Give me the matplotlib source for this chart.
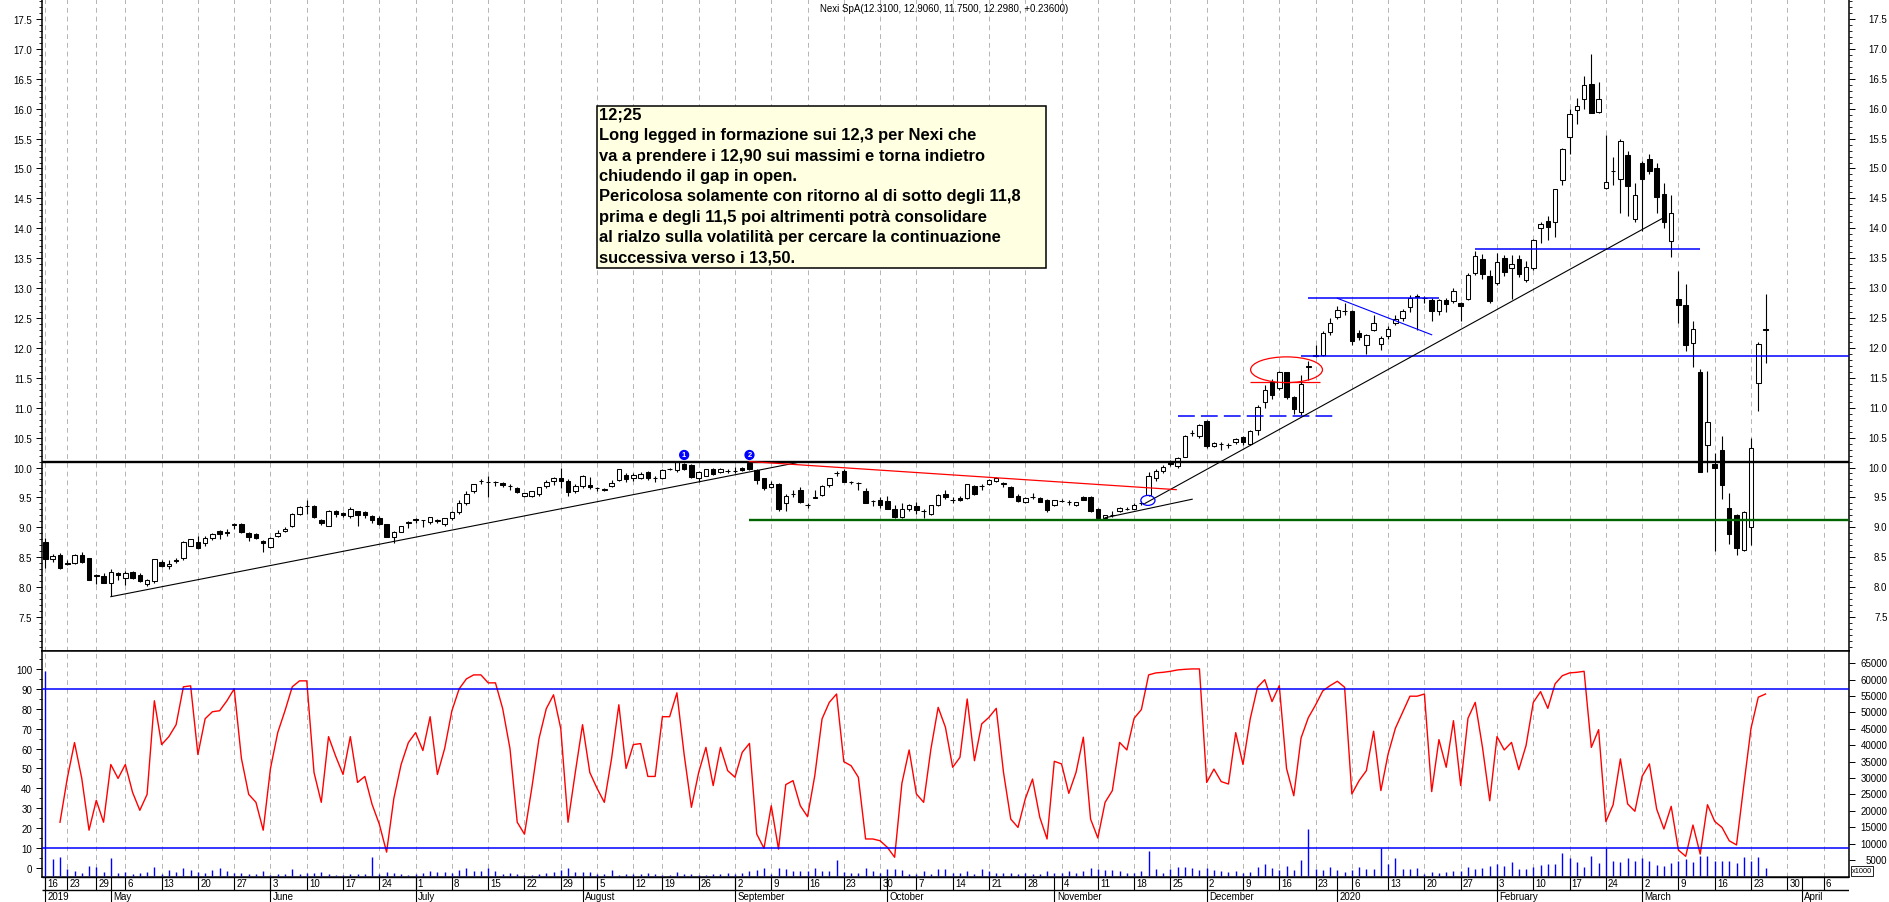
import numpy as np
import pandas as pd
import matplotlib
matplotlib.use("Agg")
import matplotlib.pyplot as plt
from matplotlib.patches import Rectangle, Ellipse
from matplotlib.ticker import MultipleLocator
from matplotlib.transforms import blended_transform_factory

plt.rcParams['font.family'] = ['Liberation Sans', 'DejaVu Sans']

title = "Nexi SpA(12.3100, 12.9060, 11.7500, 12.2980, +0.23600)"

# trading calendar (Borsa Italiana closing days in the window)
holidays = ['2019-04-19', '2019-04-22', '2019-05-01', '2019-08-15', '2019-12-24',
            '2019-12-25', '2019-12-26', '2019-12-31', '2020-01-01']
days = pd.bdate_range('2019-04-16', '2020-04-09', freq='C', holidays=holidays)

# daily OHLC, 16 Apr 2019 .. 25 Mar 2020
opens = [8.76, 8.47, 8.54, 8.40, 8.40, 8.54, 8.48, 8.21, 8.18, 8.07,
         8.24, 8.16, 8.25, 8.20, 8.06, 8.10, 8.42, 8.35, 8.46, 8.48,
         8.69, 8.76, 8.73, 8.82, 8.94, 8.92, 9.04, 9.06, 8.91, 8.89,
         8.77, 8.67, 8.85, 8.94, 9.02, 9.23, 9.36, 9.36, 9.13, 9.02,
         9.28, 9.24, 9.19, 9.27, 9.26, 9.19, 9.16, 9.06, 8.83, 8.93,
         9.07, 9.14, 9.12, 9.09, 9.11, 9.05, 9.15, 9.26, 9.40, 9.60,
         9.77, 9.76, 9.76, 9.74, 9.69, 9.66, 9.53, 9.53, 9.55, 9.69,
         9.78, 9.83, 9.78, 9.60, 9.69, 9.70, 9.66, 9.63, 9.69, 9.79,
         9.88, 9.82, 9.82, 9.93, 9.82, 9.82, 9.97, 9.96, 10.06, 10.04,
         9.83, 9.86, 9.97, 9.92, 9.94, 9.94, 9.99, 10.07, 9.96, 9.82,
         9.68, 9.73, 9.40, 9.55, 9.62, 9.37, 9.49, 9.54, 9.70, 9.91,
         9.94, 9.76, 9.74, 9.60, 9.44, 9.46, 9.44, 9.30, 9.18, 9.31,
         9.36, 9.27, 9.23, 9.37, 9.56, 9.45, 9.49, 9.49, 9.69, 9.69,
         9.73, 9.77, 9.73, 9.68, 9.53, 9.43, 9.51, 9.49, 9.46, 9.37,
         9.44, 9.42, 9.37, 9.51, 9.51, 9.31, 9.15, 9.21, 9.27, 9.31,
         9.31, 9.41, 9.54, 9.82, 9.94, 10.09, 10.03, 10.18, 10.57, 10.53,
         10.78, 10.36, 10.39, 10.37, 10.42, 10.51, 10.40, 10.62, 11.09, 11.43,
         11.33, 11.59, 11.18, 10.92, 11.68, 11.86, 11.88, 12.27, 12.52, 12.62,
         12.62, 12.25, 12.05, 12.30, 12.07, 12.20, 12.42, 12.50, 12.68, 12.85,
         12.83, 12.80, 12.62, 12.80, 12.79, 12.75, 12.82, 13.26, 13.49, 13.20,
         13.09, 13.51, 13.33, 13.49, 13.14, 13.33, 14.00, 14.13, 14.11, 14.80,
         15.52, 15.97, 16.17, 16.41, 15.94, 14.67, 14.96, 14.82, 15.22, 14.15,
         15.10, 15.16, 15.00, 14.58, 13.78, 12.82, 12.72, 12.09, 11.59, 10.37,
         10.06, 10.29, 9.33, 9.20, 8.62, 9.00, 11.42, 12.31]
highs = [8.82, 8.55, 8.57, 8.45, 8.56, 8.58, 8.48, 8.22, 8.23, 8.30,
         8.26, 8.27, 8.27, 8.23, 8.13, 8.47, 8.45, 8.45, 8.49, 8.77,
         8.81, 8.85, 8.85, 8.90, 8.96, 8.97, 9.08, 9.07, 8.93, 8.90,
         8.78, 8.83, 8.95, 9.00, 9.24, 9.36, 9.45, 9.37, 9.14, 9.29,
         9.29, 9.26, 9.34, 9.28, 9.27, 9.20, 9.19, 9.06, 8.94, 9.03,
         9.10, 9.15, 9.13, 9.18, 9.14, 9.16, 9.27, 9.45, 9.60, 9.73,
         9.80, 9.85, 9.78, 9.76, 9.72, 9.67, 9.58, 9.61, 9.68, 9.79,
         9.84, 10.00, 9.80, 9.72, 9.87, 9.84, 9.67, 9.66, 9.79, 9.98,
         9.90, 9.90, 9.92, 9.94, 9.86, 9.97, 10.00, 10.10, 10.07, 10.06,
         9.94, 9.98, 9.99, 9.99, 9.97, 10.01, 10.01, 10.10, 9.98, 9.83,
         9.77, 9.74, 9.55, 9.62, 9.68, 9.40, 9.63, 9.70, 9.83, 9.95,
         9.98, 9.78, 9.76, 9.65, 9.46, 9.51, 9.52, 9.37, 9.40, 9.39,
         9.42, 9.30, 9.38, 9.55, 9.62, 9.50, 9.53, 9.73, 9.70, 9.72,
         9.80, 9.84, 9.76, 9.69, 9.55, 9.50, 9.57, 9.51, 9.47, 9.46,
         9.47, 9.45, 9.43, 9.53, 9.52, 9.32, 9.21, 9.27, 9.34, 9.34,
         9.40, 9.44, 9.93, 9.97, 10.04, 10.13, 10.18, 10.55, 10.63, 10.73,
         10.80, 10.43, 10.42, 10.41, 10.50, 10.53, 10.63, 11.05, 11.38, 11.48,
         11.62, 11.60, 11.20, 11.55, 11.78, 12.05, 12.28, 12.50, 12.70, 12.75,
         12.64, 12.30, 12.24, 12.55, 12.20, 12.37, 12.55, 12.65, 12.88, 12.90,
         12.86, 12.83, 12.82, 12.84, 13.00, 12.77, 13.25, 13.62, 13.57, 13.30,
         13.58, 13.55, 13.55, 13.55, 13.45, 13.82, 14.10, 14.20, 14.65, 15.35,
         16.00, 16.18, 16.55, 16.92, 16.45, 15.56, 15.20, 15.50, 15.30, 14.75,
         15.12, 15.25, 15.10, 14.75, 14.55, 13.29, 13.07, 12.45, 11.65, 11.62,
         10.25, 10.52, 9.57, 9.22, 9.27, 10.50, 12.10, 12.906]
lows = [8.32, 8.42, 8.31, 8.37, 8.38, 8.40, 8.12, 8.05, 8.07, 7.85,
        8.12, 8.03, 8.14, 8.09, 8.02, 8.07, 8.33, 8.30, 8.40, 8.45,
        8.68, 8.64, 8.68, 8.78, 8.80, 8.85, 8.98, 8.90, 8.77, 8.80,
        8.58, 8.66, 8.84, 8.92, 9.01, 9.20, 9.22, 9.15, 9.04, 9.02,
        9.18, 9.18, 9.16, 9.03, 9.16, 9.07, 9.04, 8.83, 8.73, 8.92,
        8.99, 9.08, 9.00, 9.06, 9.07, 9.03, 9.12, 9.23, 9.38, 9.58,
        9.72, 9.51, 9.69, 9.68, 9.63, 9.58, 9.51, 9.51, 9.52, 9.66,
        9.70, 9.65, 9.53, 9.57, 9.66, 9.64, 9.60, 9.60, 9.67, 9.78,
        9.76, 9.77, 9.80, 9.79, 9.76, 9.80, 9.96, 9.93, 9.96, 9.82,
        9.75, 9.85, 9.87, 9.90, 9.90, 9.90, 9.94, 9.96, 9.72, 9.62,
        9.66, 9.28, 9.27, 9.50, 9.40, 9.33, 9.49, 9.52, 9.68, 9.86,
        9.75, 9.73, 9.62, 9.40, 9.36, 9.33, 9.30, 9.15, 9.16, 9.28,
        9.22, 9.16, 9.21, 9.36, 9.48, 9.40, 9.44, 9.47, 9.54, 9.62,
        9.71, 9.76, 9.67, 9.50, 9.42, 9.40, 9.47, 9.42, 9.26, 9.36,
        9.42, 9.38, 9.36, 9.45, 9.26, 9.12, 9.13, 9.18, 9.25, 9.29,
        9.30, 9.38, 9.52, 9.78, 9.90, 10.02, 9.99, 10.17, 10.52, 10.50,
        10.32, 10.34, 10.30, 10.32, 10.40, 10.38, 10.38, 10.55, 11.00, 11.15,
        11.30, 11.15, 10.90, 10.87, 11.47, 11.85, 11.86, 12.22, 12.48, 12.55,
        12.05, 12.14, 11.90, 12.28, 11.97, 12.15, 12.38, 12.45, 12.60, 12.30,
        12.75, 12.45, 12.55, 12.60, 12.75, 12.45, 12.80, 13.22, 13.15, 12.75,
        13.05, 13.20, 12.82, 13.18, 13.10, 13.30, 13.75, 13.80, 13.85, 14.72,
        15.24, 15.75, 16.00, 15.93, 15.92, 14.66, 14.73, 14.25, 14.20, 14.10,
        13.95, 14.90, 14.25, 14.00, 13.52, 12.42, 11.95, 11.68, 9.93, 9.93,
        8.60, 9.48, 8.72, 8.53, 8.60, 8.70, 10.95, 11.75]
closes = [8.47, 8.52, 8.32, 8.38, 8.54, 8.42, 8.12, 8.18, 8.07, 8.25,
          8.20, 8.23, 8.15, 8.11, 8.12, 8.47, 8.35, 8.39, 8.43, 8.76,
          8.80, 8.66, 8.82, 8.88, 8.89, 8.91, 9.05, 8.92, 8.83, 8.82,
          8.74, 8.82, 8.91, 8.98, 9.23, 9.34, 9.36, 9.17, 9.07, 9.28,
          9.23, 9.20, 9.30, 9.20, 9.20, 9.13, 9.05, 8.83, 8.93, 9.02,
          9.09, 9.12, 9.12, 9.17, 9.12, 9.15, 9.25, 9.40, 9.56, 9.72,
          9.77, 9.75, 9.76, 9.70, 9.69, 9.59, 9.57, 9.60, 9.67, 9.76,
          9.83, 9.78, 9.59, 9.69, 9.86, 9.67, 9.66, 9.63, 9.74, 9.97,
          9.80, 9.88, 9.89, 9.82, 9.82, 9.96, 9.98, 10.09, 9.97, 9.84,
          9.92, 9.97, 9.89, 9.97, 9.94, 9.95, 9.96, 9.98, 9.79, 9.66,
          9.72, 9.31, 9.53, 9.55, 9.43, 9.37, 9.50, 9.69, 9.82, 9.91,
          9.76, 9.76, 9.74, 9.41, 9.44, 9.37, 9.31, 9.18, 9.30, 9.38,
          9.29, 9.27, 9.37, 9.54, 9.51, 9.45, 9.45, 9.72, 9.55, 9.69,
          9.79, 9.82, 9.73, 9.51, 9.44, 9.49, 9.51, 9.43, 9.29, 9.45,
          9.44, 9.42, 9.42, 9.46, 9.27, 9.15, 9.20, 9.21, 9.33, 9.31,
          9.37, 9.41, 9.86, 9.94, 10.01, 10.06, 10.16, 10.53, 10.57, 10.71,
          10.36, 10.41, 10.39, 10.37, 10.48, 10.42, 10.61, 11.01, 11.29, 11.22,
          11.60, 11.18, 10.98, 11.40, 11.70, 11.88, 12.25, 12.41, 12.63, 12.62,
          12.11, 12.18, 12.21, 12.41, 12.16, 12.32, 12.48, 12.62, 12.83, 12.86,
          12.83, 12.62, 12.80, 12.73, 12.95, 12.70, 13.22, 13.53, 13.23, 12.79,
          13.44, 13.27, 13.40, 13.24, 13.35, 13.81, 14.07, 14.03, 14.65, 15.32,
          15.91, 16.05, 16.40, 15.93, 16.17, 14.78, 14.96, 15.46, 14.71, 14.55,
          14.83, 14.95, 14.52, 14.11, 14.26, 12.72, 12.05, 12.32, 9.93, 10.76,
          10.00, 9.70, 8.88, 8.66, 9.26, 10.33, 12.06, 12.298]

# oscillator (0-100), first two sessions have no value
osc = [np.nan, np.nan,
       23, 45, 63, 45, 19, 34, 23, 52, 45, 52,
       38, 29, 37, 84, 62, 66, 72, 91, 91.5, 57,
       75, 78.5, 79, 84, 90, 55, 37, 33, 19, 50,
       68, 79, 91, 94, 94, 48, 33, 66, 56, 47,
       66, 43, 46, 32, 22, 8, 35, 52, 63, 68,
       59, 76, 47, 60, 79, 90, 95, 97, 97, 93,
       93, 80, 60, 23, 17, 40, 65, 80, 87, 70,
       23, 48, 72, 48, 40, 33, 55, 82, 50, 62,
       62.5, 46, 46, 76, 76,
       88, 57, 30.5, 48, 60.6, 41.4, 60.6, 48.9, 45.6, 58.1,
       62.6, 17.1, 9.9, 31.3, 9.5, 41.9, 43.9, 31.3, 25.8, 46.4,
       74.9, 83.2, 87.4, 53.4, 51.4, 45.6, 14.6, 14.6, 13.7, 10.4,
       5.4, 42.5, 59.3, 37.2, 33.0, 59.8, 80.7, 70.7, 50.6, 55.6,
       84.9, 53.9, 72.4, 75.7, 80.2, 48.1, 24.6, 20.4, 34.7, 44.7,
       25.5, 14.6, 53.6, 52.3, 37.5, 48.1, 65.7, 24.6, 15.1, 33.0,
       38.9, 63.1, 59.3, 75.2, 79.6, 97.0, 98.0, 98.3, 98.8, 99.5,
       99.8,
       100, 100, 43, 49.7, 43.4, 42.2, 68, 52, 75, 90.8,
       94.6, 83.6, 91.6, 50, 36.3, 65.3, 75.5, 81.9, 89, 91.6,
       93.8, 90.8, 37.2, 43.9, 48.9, 68.7, 38.9, 57.3, 70.2, 78.2,
       86.3, 86.3, 87.4, 38.4, 64.5, 50.6, 74, 41.4, 75.2, 83.2,
       60.6, 33.8, 66, 59.3, 63.1, 49.4, 61.5, 83.2, 88.6, 80.2,
       92.5, 96.6, 98, 98.3, 98.8, 60.6, 69.5, 23.3, 31.8, 54.8,
       32.2, 28.5, 46.1, 52.3, 29.6, 19.6, 31, 9, 5.9, 21.6,
       7, 31.8, 23.4, 20.4, 13.7, 11.6, 41.4, 70.2, 85.8, 87.4]

# volume (right scale, x1000)
vol = [62600, 5400, 5900, 2300, 1600, 1100, 3100, 2900, 1400, 5600,
       1100, 1300, 800, 1100, 1400, 2900, 800, 2000, 1400, 2600,
       2000, 1200, 1100, 2000, 2600, 1600, 1100, 1100, 800, 600,
       1600, 400, 600, 600, 2300, 800, 1100, 1100, 1400, 800,
       400, 400, 800, 800, 600, 5900, 800, 1400, 1100, 600,
       400, 800, 1100, 1600, 1400, 1400, 1100, 1900, 2400, 1600,
       1600, 2600, 1600, 800, 1000, 800, 400, 400, 800, 1000,
       1200, 1800, 2400, 1400, 1400, 1400, 800, 800, 2000, 400,
       800, 800, 800, 1000, 800, 400, 400,
       1400, 800, 600, 400, 400, 600, 800, 1000, 800, 1000,
       1600, 1900, 2400, 600, 2400, 2100, 1600, 1600, 1600, 2400,
       1600, 1600, 5100, 1200, 1100, 1100, 2400, 1600, 1100, 2100,
       2100, 1900, 600, 800, 1600, 800, 2100, 2100, 1100, 1100,
       1600, 800, 2100, 1600, 1100, 1100, 1100, 600, 1100, 600,
       600, 1600, 1100, 1100, 1600, 1100, 1600, 2400, 2100, 1900,
       1800, 1600, 1100, 1100, 1600, 7700, 2100, 1100, 2100, 2900,
       2900,
       2600, 1900, 2600, 1900, 1600, 1400, 1600, 1100, 1400, 2800,
       3800, 2600, 2000, 3100, 1900, 5100, 14400, 2200, 1900, 2900,
       1900, 1400, 1900, 2900, 2100, 2300, 8700, 3900, 5600, 2300,
       2100, 2600, 800, 1400, 1100, 1400, 1600, 1600, 2900, 2100,
       2600, 3100, 3800, 3300, 4400, 2300, 2300, 2900, 3600, 3800,
       3800, 7200, 5600, 4400, 2900, 6200, 4100, 8700, 4800, 4400,
       5600, 4600, 5600, 4800, 3600, 3300, 4100, 4800, 5400, 4400,
       6200, 6200, 4800, 4800, 4800, 4100, 5900, 4800, 5900, 2600]

note_lines = ["12;25",
              "Long legged in formazione sui 12,3 per Nexi che",
              "va a prendere i 12,90 sui massimi e torna indietro",
              "chiudendo il gap in open.",
              "Pericolosa solamente con ritorno al di sotto degli 11,8",
              "prima e degli 11,5 poi altrimenti potrà consolidare",
              "al rialzo sulla volatilità per cercare la continuazione",
              "successiva verso i 13,50."]

opens, highs, lows, closes = map(np.array, (opens, highs, lows, closes))
osc = np.array(osc, dtype=float)
vol = np.array(vol, dtype=float)
x = np.arange(len(closes))

W, H = 1890, 903
L, R = 42, 1849
fig = plt.figure(figsize=(W / 100, H / 100), dpi=100)
ax = fig.add_axes([L / W, 1 - 652 / H, (R - L) / W, 652 / H])
axl = fig.add_axes([L / W, 1 - 878 / H, (R - L) / W, (878 - 652) / H])
axd = fig.add_axes([L / W, 0, (R - L) / W, (903 - 878) / H])

xmin, xmax = -0.48, 248.5
for a in (ax, axl, axd):
    a.set_xlim(xmin, xmax)

# week and month starts on the trading-day axis
iso = [d.isocalendar()[1] for d in days]
week_starts = []
for i in range(len(days)):
    if i == 0 or iso[i] != iso[i - 1]:
        if week_starts and i - week_starts[-1] < 3:
            continue
        week_starts.append(i)
month_starts = [i for i in range(len(days)) if i == 0 or days[i].month != days[i - 1].month]

grid_kw = dict(color='#b4b4b4', lw=0.7, ls=(0, (5, 4)), zorder=0)
for w in week_starts:
    ax.axvline(w, **grid_kw)
    axl.axvline(w, **grid_kw)

# ---- price panel
ax.set_ylim(6.932, 17.834)
up = closes >= opens
body_lo = np.minimum(opens, closes)
body_h = np.maximum(np.abs(closes - opens), 0.004)
ax.vlines(x, lows, highs, color='black', lw=0.8, zorder=3)
ax.bar(x[up], body_h[up], bottom=body_lo[up], width=0.62, color='white',
       edgecolor='black', lw=0.75, zorder=4)
ax.bar(x[~up], body_h[~up], bottom=body_lo[~up], width=0.62, color='black',
       edgecolor='black', lw=0.75, zorder=4)

ax.axhline(10.10, color='black', lw=1.7, zorder=5)
ax.hlines(9.13, 96.9, xmax, color='#006400', lw=1.7, zorder=5)
ax.hlines(11.86, 173, xmax, color='#0000ff', lw=1.1, zorder=5)
ax.hlines(12.83, 174, 192, color='#0000ff', lw=1.1, zorder=5)
ax.hlines(13.65, 197, 228, color='#0000ff', lw=1.1, zorder=5)
ax.plot([178, 191], [12.83, 12.22], color='#0000ff', lw=0.8, zorder=5)
ax.plot([156, 178], [10.86, 10.86], color='#0000ff', lw=1.1, dashes=(11, 4), zorder=5)
ax.plot([9, 103.5], [7.84, 10.08], color='black', lw=0.8, zorder=5)
ax.plot([146, 158], [9.16, 9.47], color='black', lw=0.8, zorder=5)
ax.plot([151.5, 223], [9.40, 14.18], color='black', lw=0.8, zorder=5)
ax.plot([97, 155.8], [10.10, 9.63], color='#ff0000', lw=0.9, zorder=5)
ax.hlines(11.43, 166, 175.6, color='#ff0000', lw=0.9, zorder=2)
ax.add_patch(Ellipse((171, 11.635), 9.9, 0.43, fill=False, ec='#ff0000', lw=0.9, zorder=6))
ax.add_patch(Ellipse((151.9, 9.45), 1.95, 0.167, fill=False, ec='#0000ff', lw=0.9, zorder=6))
for xi, num in ((88, '1'), (97, '2')):
    ax.text(xi, 10.21, num, color='white', fontsize=5.5, fontweight='bold', ha='center',
            va='center', zorder=7,
            bbox=dict(boxstyle='circle,pad=0.12', fc='#0000ff', ec='#0000ff'))

# note box
fig.add_artist(Rectangle((596.7 / W, 1 - 269 / H), (1045.7 - 596.7) / W, (269 - 106.7) / H,
                         transform=fig.transFigure, fc='#ffffe1', ec='black', lw=1.1, zorder=8))
for k, line in enumerate(note_lines):
    fig.text(599.5 / W, 1 - (120 + 20.33 * k) / H, line, fontsize=11.9, fontweight='bold',
             ha='left', va='baseline', zorder=9)

fig.text(944 / W, 1 - 9 / H, title, fontsize=7, ha='center', va='center')

# ---- lower panel
axl.set_ylim(-4.5, 109)
axl.plot(x, osc, color='#ff0000', lw=1.0, zorder=3)
axl.axhline(90, color='#0000ff', lw=1.1, zorder=4)
axl.axhline(10, color='#0000ff', lw=1.1, zorder=4)
ax2 = axl.twinx()
ax2.set_ylim(-200, 68700)
ax2.vlines(x, 0, vol, color='#0000ff', lw=1.0)

# ---- axes styling
for a in (ax, axl, ax2):
    a.tick_params(axis='x', bottom=False, labelbottom=False, top=False)
for s in ('left', 'right', 'bottom'):
    ax.spines[s].set_linewidth(1.1)
ax.spines['top'].set_visible(False)
for s in axl.spines.values():
    s.set_linewidth(1.1)
for s in ax2.spines.values():
    s.set_visible(False)

tick_kw = dict(direction='out', labelsize=7, width=0.7, colors='black')
ax.set_yticks(np.arange(7.5, 17.51, 0.5))
ax.set_yticklabels([f'{v:.1f}' for v in np.arange(7.5, 17.51, 0.5)])
ax.yaxis.set_minor_locator(MultipleLocator(0.1))
ax.tick_params(axis='y', which='major', length=4.2, pad=3, left=True, right=True, **tick_kw)
ax.tick_params(axis='y', which='minor', length=2.2, left=True, right=True, width=0.6)

axl.set_yticks(np.arange(0, 101, 10))
axl.yaxis.set_minor_locator(MultipleLocator(5))
axl.tick_params(axis='y', which='major', length=4.2, pad=3, left=True, right=False, **tick_kw)
axl.tick_params(axis='y', which='minor', length=2.2, left=True, right=False, width=0.6)

ax2.set_yticks(np.arange(5000, 65001, 5000))
ax2.tick_params(axis='y', which='major', length=4.2, right=True, labelright=False,
                direction='out', width=0.7)

off = 1 + 38.5 / (R - L)
tr = blended_transform_factory(ax.transAxes, ax.transData)
for v in np.arange(7.5, 17.51, 0.5):
    ax.text(off, v, f'{v:.1f}', transform=tr, ha='right', va='center', fontsize=7, clip_on=False)
tr2 = blended_transform_factory(ax2.transAxes, ax2.transData)
for v in np.arange(5000, 65001, 5000):
    ax2.text(off, v, f'{v}', transform=tr2, ha='right', va='center', fontsize=7, clip_on=False)
fig.text(1852 / W, 1 - 872 / H, 'x1000', fontsize=5.3, ha='left', va='center',
         bbox=dict(boxstyle='square,pad=0.15', fc='white', ec='black', lw=0.6))

# ---- date band
axd.set_ylim(0, 1)
axd.axis('off')
axd.hlines([1.0, 0.5], xmin, xmax, color='black', lw=1.0)
for w in week_starts:
    axd.vlines(w, 0.5, 1, color='black', lw=0.8)
    axd.text(w + 0.3, 0.74, str(days[w].day), ha='left', va='center', fontsize=7)
for m in month_starts:
    d = days[m]
    name = str(d.year) if (m == 0 or d.month == 1) else d.strftime('%B')
    axd.vlines(m, 0, 1, color='black', lw=0.8)
    axd.text(m + 0.35, 0.22, name, ha='left', va='center', fontsize=7)

fig.savefig('out.png', dpi=100)
